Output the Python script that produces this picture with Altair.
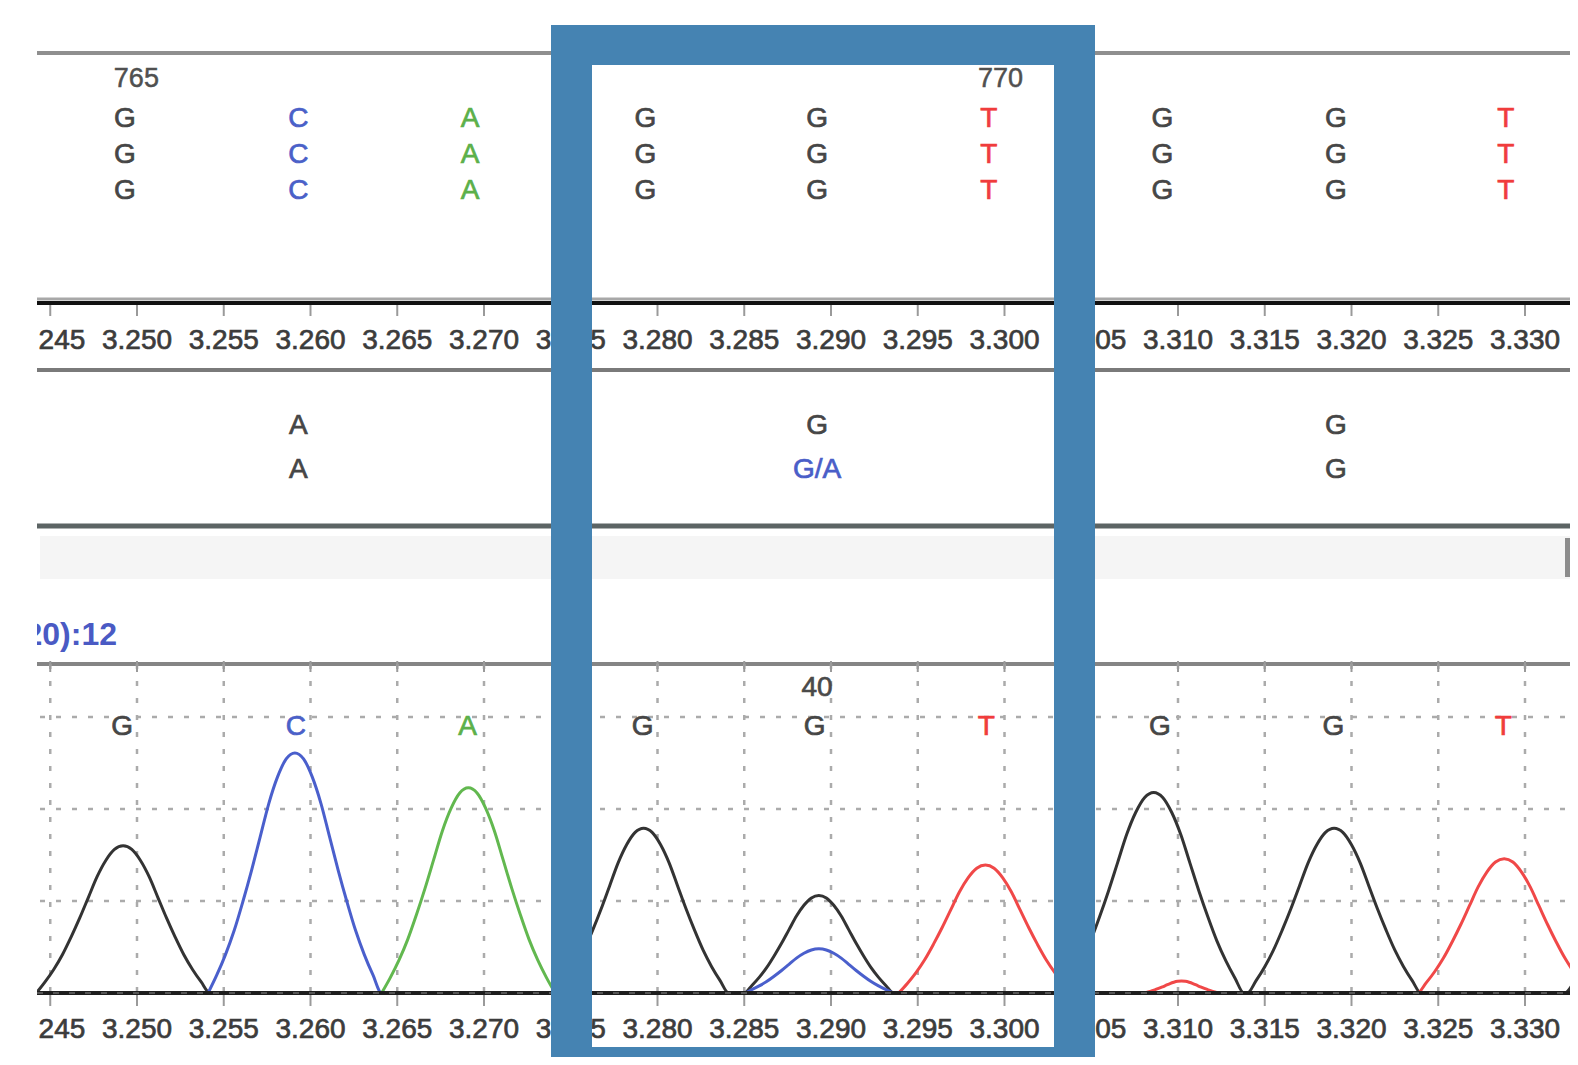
import altair as alt
import pandas as pd

# ---------------- values ----------------
BASES = ["G", "C", "A", "G", "G", "T", "G", "G", "T"]
BASE_POS = [3.2493, 3.2593, 3.2692, 3.2793, 3.2892, 3.2991, 3.3091, 3.3191, 3.3289]
READ_ROWS = ["read 1", "read 2", "read 3"]
NUMBERING = {0: "765", 5: "770"}
CONS_ROW_1 = {1: "A", 4: "G", 7: "G"}
CONS_ROW_2 = {1: "A", 4: "G/A", 7: "G"}
QUAL_TEXT = "20):12"
PEAK_QV = {4: "40"}
TICK_VALUES = [3.245, 3.250, 3.255, 3.260, 3.265, 3.270, 3.275, 3.280, 3.285, 3.290,
               3.295, 3.300, 3.305, 3.310, 3.315, 3.320, 3.325, 3.330, 3.335]
TICK_LABELS = ["3.245", "3.250", "3.255", "3.260", "3.265", "3.270", "3.275", "3.280",
               "3.285", "3.290", "3.295", "3.300", "3.305", "3.310", "3.315", "3.320",
               "3.325", "3.330"]
SIGNAL_GRID = [100, 200, 300]

# chromatogram peaks: centre, height (signal units), half width
G_PEAK_POS = [3.2492, 3.2792, 3.2893, 3.3086, 3.3190, 3.3375]
G_PEAK_H = [160, 179, 106, 218, 179, 150]
G_PEAK_HW = [0.0050, 0.0049, 0.0043, 0.0052, 0.0050, 0.0052]
C_PEAK_POS = [3.2591, 3.2893]
C_PEAK_H = [261, 48]
C_PEAK_HW = [0.0050, 0.0043]
A_PEAK_POS = [3.2691]
A_PEAK_H = [223]
A_PEAK_HW = [0.0050]
T_PEAK_POS = [3.2989, 3.3102, 3.3288]
T_PEAK_H = [139, 13, 146]
T_PEAK_HW = [0.0050, 0.0022, 0.0050]
# peak outline: (distance from apex / half width, relative height)
PEAK_PROFILE = [(0.0, 1.0), (0.1, 0.975), (0.2, 0.90), (0.3, 0.79), (0.4, 0.65),
                (0.5, 0.51), (0.6, 0.38), (0.7, 0.26), (0.8, 0.16), (0.9, 0.075),
                (1.0, 0.0)]

# ---------------- styling / layout ----------------
BASE_COLORS = {"G": "#464646", "C": "#4a60c8", "A": "#5cb04a", "T": "#f03c3c"}
TRACE_COLORS = {"G": "#333333", "C": "#4a5fcc", "A": "#62b84f", "T": "#f04848"}
FONT = "Liberation Sans"
W, H = 1562, 1049
PX0, PX_PER = 137.0, 17350.0   # page x of 3.250, pixels per unit


def at_px(p):
    return 3.25 + (p - PX0) / PX_PER


def cy(p):  # page y -> chart y
    return p - 8


XDOM = [at_px(8), at_px(1570)]
XL = at_px(37)
XS = alt.Scale(domain=XDOM, nice=False, zero=False)
SIG_SCALE = alt.Scale(domain=[0, 300], range=[cy(993), cy(717)], nice=False, zero=False)

ROW_NUM = 79
ROW_READS = [119, 155, 191]
ROW_TICKLAB_TOP = 341
ROW_CONS = [426, 470]
ROW_QUAL = 635
ROW_QV = 688
ROW_CALLS = 727
ROW_TICKLAB_BOT = 1030


def X(field="x"):
    return alt.X(f"{field}:Q", scale=XS, axis=None)


def PY(field="py"):
    return alt.Y(f"{field}:Q", scale=None, axis=None)


layers = []

# light band + small marker
rect_df = pd.DataFrame([
    dict(x=at_px(40), x2=XDOM[1], py=cy(536), py2=cy(579), c="#f5f5f5"),
    dict(x=at_px(1565), x2=XDOM[1], py=cy(538), py2=cy(577), c="#8c8c8c"),
])
layers.append(alt.Chart(rect_df).mark_rect().encode(
    x=X(), x2="x2:Q", y=PY(), y2="py2:Q", color=alt.Color("c:N", scale=None)))

# horizontal separator lines
hl = pd.DataFrame([
    dict(py=cy(53), c="#8f8f8f", w=4),
    dict(py=cy(299), c="#a8a8a8", w=3),
    dict(py=cy(303), c="#111111", w=4),
    dict(py=cy(370), c="#7a7a7a", w=4),
    dict(py=cy(526), c="#5c6464", w=5),
    dict(py=cy(664), c="#858585", w=4),
])
hl["x"] = XL
hl["x2"] = XDOM[1]
layers.append(alt.Chart(hl).mark_rule().encode(
    x=X(), x2="x2:Q", y=PY(), color=alt.Color("c:N", scale=None),
    strokeWidth=alt.StrokeWidth("w:Q", scale=None)))

# dotted grid of chromatogram
vg = pd.DataFrame({"x": TICK_VALUES})
vg["py"] = cy(664)
vg["py2"] = cy(993)
layers.append(alt.Chart(vg).mark_rule(color="#ababab", strokeWidth=2.5, strokeDash=[5, 12]).encode(
    x=X(), y=PY(), y2="py2:Q"))
hg = pd.DataFrame({"s": SIGNAL_GRID})
hg["x"] = at_px(40)
hg["x2"] = XDOM[1]
layers.append(alt.Chart(hg).mark_rule(color="#ababab", strokeWidth=2.5, strokeDash=[5, 11]).encode(
    x=X(), x2="x2:Q", y=alt.Y("s:Q", scale=SIG_SCALE, axis=None)))

# tick marks
tk = []
for v in TICK_VALUES:
    for a, b in [(305, 316), (661, 672), (993, 1006)]:
        tk.append(dict(x=v, py=cy(a), py2=cy(b)))
layers.append(alt.Chart(pd.DataFrame(tk)).mark_rule(color="#9a9a9a", strokeWidth=2).encode(
    x=X(), y=PY(), y2="py2:Q"))

# tick labels (two rows)
tl = []
for v, lab in zip(TICK_VALUES, TICK_LABELS):
    for r in (ROW_TICKLAB_TOP, ROW_TICKLAB_BOT):
        tl.append(dict(x=v, py=cy(r), t=lab))
layers.append(alt.Chart(pd.DataFrame(tl)).mark_text(
    font=FONT, fontSize=28, color="#3c3c3c", stroke="#3c3c3c", strokeWidth=0.7,
    baseline="middle", align="center").encode(x=X(), y=PY(), text="t:N"))

# sequence rows (three reads), consensus rows, base calls
seq = []
for r in ROW_READS:
    for b, p in zip(BASES, BASE_POS):
        seq.append(dict(x=p, py=cy(r), t=b, c=BASE_COLORS[b]))
for i, t in CONS_ROW_1.items():
    seq.append(dict(x=BASE_POS[i], py=cy(ROW_CONS[0]), t=t, c="#464646"))
for i, t in CONS_ROW_2.items():
    seq.append(dict(x=BASE_POS[i], py=cy(ROW_CONS[1]), t=t,
                    c="#4a5ec8" if "/" in t else "#464646"))
for b, p in zip(BASES, BASE_POS):
    seq.append(dict(x=p - 0.00015, py=cy(ROW_CALLS), t=b, c=BASE_COLORS[b]))
for i, t in PEAK_QV.items():
    seq.append(dict(x=BASE_POS[i], py=cy(ROW_QV), t=t, c="#4a4a4a"))
layers.append(alt.Chart(pd.DataFrame(seq)).mark_text(
    font=FONT, fontSize=28, strokeWidth=0.7, baseline="middle", align="center").encode(
    x=X(), y=PY(), text="t:N", color=alt.Color("c:N", scale=None),
    stroke=alt.Stroke("c:N", scale=None)))

# position numbering
num = pd.DataFrame([dict(x=BASE_POS[i], py=cy(ROW_NUM), t=t) for i, t in NUMBERING.items()])
layers.append(alt.Chart(num).mark_text(
    font=FONT, fontSize=27, baseline="middle", align="left", dx=-11, color="#505050",
    stroke="#505050", strokeWidth=0.5).encode(x=X(), y=PY(), text="t:N"))

# quality label (clipped at the panel's left edge)
ql = pd.DataFrame([dict(x=at_px(117), py=cy(ROW_QUAL), t=QUAL_TEXT)])
layers.append(alt.Chart(ql).mark_text(
    font=FONT, fontSize=32, fontWeight="bold", baseline="middle", align="right",
    color="#4a5ac4").encode(x=X(), y=PY(), text="t:N"))

# traces
tr = []
for name, pos, hh, hw in [("G", G_PEAK_POS, G_PEAK_H, G_PEAK_HW),
                          ("C", C_PEAK_POS, C_PEAK_H, C_PEAK_HW),
                          ("A", A_PEAK_POS, A_PEAK_H, A_PEAK_HW),
                          ("T", T_PEAK_POS, T_PEAK_H, T_PEAK_HW)]:
    pts = []
    for c, h, w in zip(pos, hh, hw):
        for d, r in PEAK_PROFILE:
            pts.append((c - d * w, r * h))
            if d > 0:
                pts.append((c + d * w, r * h))
    pts.sort()
    for i, (x, s) in enumerate(pts):
        tr.append(dict(trace=name, x=x, s=s, o=i, c=TRACE_COLORS[name]))
layers.append(alt.Chart(pd.DataFrame(tr)).mark_line(
    interpolate="monotone", strokeWidth=3, clip=True).encode(
    x=X(), y=alt.Y("s:Q", scale=SIG_SCALE, axis=None),
    color=alt.Color("c:N", scale=None), detail="trace:N", order="o:Q"))

# baseline
bl = pd.DataFrame([dict(x=XL, x2=XDOM[1], s=0)])
layers.append(alt.Chart(bl).mark_rule(color="#1e1e1e", strokeWidth=4).encode(
    x=X(), x2="x2:Q", y=alt.Y("s:Q", scale=SIG_SCALE, axis=None)))
layers.append(alt.Chart(bl).mark_rule(color="#6a6a6a", strokeWidth=1.5, strokeDash=[6, 10]).encode(
    x=X(), x2="x2:Q", y=alt.Y("s:Q", scale=SIG_SCALE, axis=None)))

# white margin left of the panels
mask = pd.DataFrame([dict(x=XDOM[0], x2=XL, py=0, py2=H)])
layers.append(alt.Chart(mask).mark_rect(color="white").encode(
    x=X(), x2="x2:Q", y=PY(), y2="py2:Q"))

# highlight box
OL, IL, IR, OR = at_px(551), at_px(592), at_px(1054), at_px(1095)
box = pd.DataFrame([
    dict(x=OL, x2=OR, py=cy(25), py2=cy(65)),
    dict(x=OL, x2=IL, py=cy(25), py2=H),
    dict(x=IR, x2=OR, py=cy(25), py2=H),
    dict(x=OL, x2=OR, py=cy(1047), py2=H),
])
layers.append(alt.Chart(box).mark_rect(color="#4583b2").encode(
    x=X(), x2="x2:Q", y=PY(), y2="py2:Q"))

chart = alt.layer(*layers).resolve_scale(y="independent").properties(
    width=W, height=H, padding=0, autosize=alt.AutoSizeParams(type="none"),
    background="white").configure_view(strokeWidth=0)

chart.save("out.html", embed_options={"renderer": "svg", "actions": False})
